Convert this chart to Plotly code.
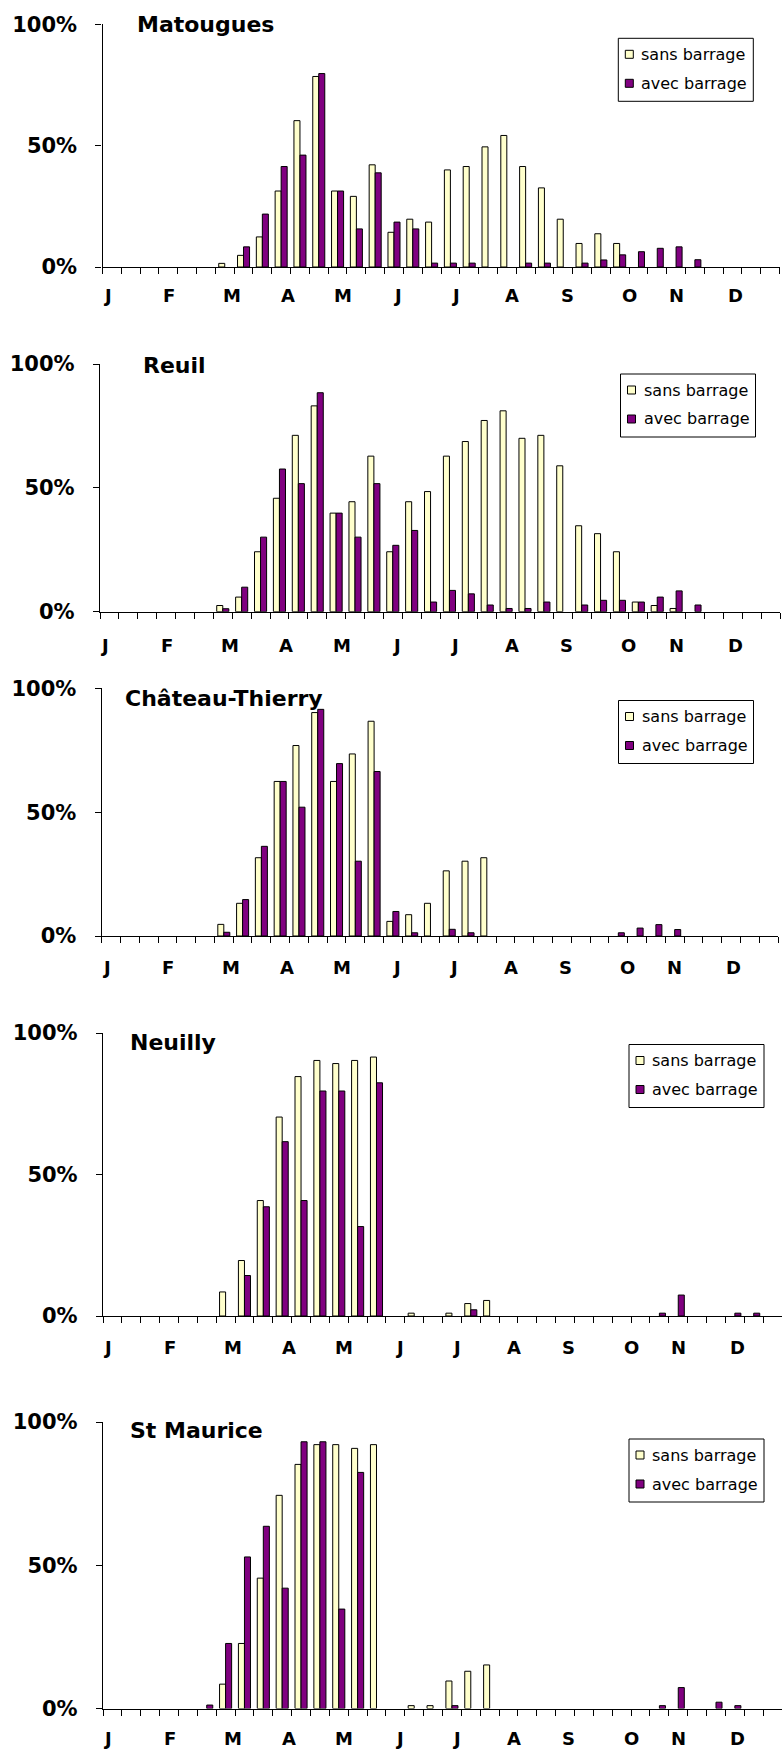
import plotly.graph_objects as go

# ---------------------------------------------------------------------------
# Data: share (%) of each 10-day period (3 per month, 36 per year)
# ---------------------------------------------------------------------------
STATIONS = ["Matougues", "Reuil", "Château-Thierry", "Neuilly", "St Maurice"]
SERIES_NAMES = ["sans barrage", "avec barrage"]
MONTH_LABELS = ["J", "F", "M", "A", "M", "J", "J", "A", "S", "O", "N", "D"]
Y_TICKS = [0, 50, 100]
Y_TICK_LABELS = ["0%", "50%", "100%"]
N_PERIODS = 36

#                  J            F            M               A               M               J               J               A               S               O             N             D
matougues_sans = [0, 0, 0,    0, 0, 0,    1.5, 4.8, 12.4, 31.3, 60.3, 78.5, 31.3, 29.1, 42.1, 14.3, 19.7, 18.5, 40.0, 41.4, 49.5, 54.2, 41.4, 32.6, 19.7, 9.7, 13.7, 9.7, 0, 0,    0, 0, 0,    0, 0, 0]
matougues_avec = [0, 0, 0,    0, 0, 0,    0, 8.3, 21.8,   41.4, 46.1, 79.7, 31.3, 15.7, 38.8, 18.5, 15.7, 1.6,  1.6, 1.6, 0,     0, 1.6, 1.6,    0, 1.6, 2.9,   5.0, 6.3, 7.7, 8.3, 3.0, 0, 0, 0, 0]

reuil_sans = [0, 0, 0,    0, 0, 0,    2.5, 5.9, 24.2, 45.8, 71.2, 83.1, 39.8, 44.4, 62.8, 24.2, 44.4, 48.5, 62.8, 68.7, 77.2, 81.1, 70.0, 71.2, 58.9, 34.7, 31.5, 24.2, 3.9, 2.5, 1.3, 0, 0,    0, 0, 0]
reuil_avec = [0, 0, 0,    0, 0, 0,    1.2, 9.9, 30.1, 57.6, 51.7, 88.4, 39.8, 30.1, 51.7, 26.8, 32.8, 3.9,  8.6, 7.2, 2.7,   1.3, 1.3, 3.9,    0, 2.7, 4.6,   4.6, 3.9, 5.9, 8.4, 2.7, 0,    0, 0, 0]

chateau_sans = [0, 0, 0,    0, 0, 0,    4.7, 13.2, 31.6, 62.4, 76.9, 90.2, 62.4, 73.5, 86.7, 5.9, 8.6, 13.2, 26.3, 30.2, 31.6, 0, 0, 0,    0, 0, 0,    0, 0, 0,    0, 0, 0,    0, 0, 0]
chateau_avec = [0, 0, 0,    0, 0, 0,    1.5, 14.7, 36.2, 62.4, 52.0, 91.5, 69.6, 30.2, 66.4, 9.9, 1.3, 0,    2.7, 1.3, 0,    0, 0, 0,    0, 0, 0,    1.3, 3.2, 4.6, 2.6, 0, 0,    0, 0, 0]

neuilly_sans = [0, 0, 0,    0, 0, 0,    8.5, 19.6, 40.8, 70.3, 84.6, 90.3, 89.2, 90.3, 91.5, 0, 1.0, 0,    1.0, 4.4, 5.5, 0, 0, 0,    0, 0, 0,    0, 0, 0,    0, 0, 0,    0, 0, 0]
neuilly_avec = [0, 0, 0,    0, 0, 0,    0, 14.3, 38.6,   61.6, 40.8, 79.5, 79.5, 31.6, 82.4, 0, 0, 0,      0, 2.2, 0,     0, 0, 0,    0, 0, 0,    0, 0, 1.0,  7.4, 0, 0,  1.0, 1.0, 0]

stmaurice_sans = [0, 0, 0,    0, 0, 0,    8.5, 22.7, 45.5, 74.4, 85.2, 92.1, 92.1, 90.8, 92.1, 0, 1.0, 1.0, 9.6, 13.0, 15.2, 0, 0, 0,    0, 0, 0,    0, 0, 0,    0, 0, 0,    0, 0, 0]
stmaurice_avec = [0, 0, 0,    0, 0, 1.2,  22.7, 52.9, 63.6, 42.0, 93.1, 93.1, 34.7, 82.4, 0, 0, 0, 0,       1.0, 0, 0,     0, 0, 0,    0, 0, 0,    0, 0, 1.0,  7.3, 0, 2.2,  1.0, 0, 0]

SANS = [matougues_sans, reuil_sans, chateau_sans, neuilly_sans, stmaurice_sans]
AVEC = [matougues_avec, reuil_avec, chateau_avec, neuilly_avec, stmaurice_avec]

# ---------------------------------------------------------------------------
# Layout (pixel geometry of a 782 x 1752 page)
# ---------------------------------------------------------------------------
W, H = 782, 1752
FONT = "DejaVu Sans"
COLOR_SANS = "#FFFFCC"
COLOR_AVEC = "#800080"

# plot area: x0, x1, y(100%), y(0%); title anchor; legend top-left; month label row
PANELS = [
    dict(x0=102.5, x1=779.5, top=24.3, bottom=267.0, title=(134.5, 25.0), legend=(618.3, 38.3), months_y=295.0),
    dict(x0=100.0, x1=780.0, top=364.0, bottom=611.7, title=(141.0, 365.0), legend=(620.5, 374.0), months_y=645.0),
    dict(x0=101.7, x1=778.0, top=688.3, bottom=936.0, title=(123.0, 698.0), legend=(618.5, 700.5), months_y=967.0),
    dict(x0=103.0, x1=782.0, top=1033.0, bottom=1316.0, title=(127.5, 1042.0), legend=(629.0, 1044.5), months_y=1347.0),
    dict(x0=103.0, x1=782.0, top=1422.0, bottom=1708.5, title=(127.5, 1430.0), legend=(629.0, 1439.0), months_y=1738.5),
]
# month label centres, in 10-day period units from the start of the year
MONTH_POS = [0.25, 3.55, 6.9, 9.85, 12.8, 15.7, 18.75, 21.8, 24.7, 28.0, 30.5, 33.65]
LEGEND_W, LEGEND_H = 135.0, 63.0


def fx(px):
    return px / W


def fy(py):
    return 1.0 - py / H


def nonzero(values):
    # empty periods get no bar at all
    return [v if v > 0 else None for v in values]


fig = go.Figure()
periods = [i + 0.5 for i in range(N_PERIODS)]
annotations = []
shapes = []
layout_axes = {}

for k, (name, geo) in enumerate(zip(STATIONS, PANELS), start=1):
    xa, ya = f"x{k}", f"y{k}"
    for series, values, color in ((SERIES_NAMES[0], SANS[k - 1], COLOR_SANS),
                                  (SERIES_NAMES[1], AVEC[k - 1], COLOR_AVEC)):
        fig.add_trace(go.Bar(
            x=periods, y=nonzero(values), name=series, xaxis=xa, yaxis=ya,
            marker=dict(color=color, line=dict(color="black", width=1)),
            showlegend=False, hoverinfo="x+y",
        ))

    suffix = "" if k == 1 else str(k)
    layout_axes[f"xaxis{suffix}"] = dict(
        domain=[fx(geo["x0"]), fx(geo["x1"])], range=[0, N_PERIODS], anchor=ya,
        tickmode="array", tickvals=list(range(N_PERIODS + 1)), ticks="outside",
        ticklen=6, tickwidth=1, tickcolor="black", showticklabels=False,
        showline=True, linecolor="black", linewidth=1.3, showgrid=False,
        zeroline=False, fixedrange=True, automargin=False,
    )
    layout_axes[f"yaxis{suffix}"] = dict(
        domain=[fy(geo["bottom"]), fy(geo["top"])], range=[0, 100], anchor=xa,
        tickmode="array", tickvals=Y_TICKS, ticktext=Y_TICK_LABELS,
        ticks="outside", ticklen=6, tickwidth=1, tickcolor="black",
        ticklabelstandoff=14,
        tickfont=dict(family=FONT, size=21, color="black", weight="bold"),
        showline=True, linecolor="black", linewidth=1.3, showgrid=False,
        zeroline=False, fixedrange=True, automargin=False,
    )

    # station title
    tx, ty = geo["title"]
    annotations.append(dict(
        text=name, xref="paper", yref="paper", x=fx(tx), y=fy(ty),
        xanchor="left", yanchor="middle", showarrow=False,
        font=dict(family=FONT, size=22, color="black", weight="bold"),
    ))

    # month labels under the axis
    for label, pos in zip(MONTH_LABELS, MONTH_POS):
        annotations.append(dict(
            text=label, xref=xa, yref="paper", x=pos, y=fy(geo["months_y"]),
            xanchor="center", yanchor="middle", showarrow=False, borderpad=0,
            font=dict(family=FONT, size=18, color="black", weight="bold"),
        ))

    # legend box
    lx, ly = geo["legend"]
    shapes.append(dict(
        type="rect", xref="paper", yref="paper",
        x0=fx(lx), x1=fx(lx + LEGEND_W), y0=fy(ly), y1=fy(ly + LEGEND_H),
        line=dict(color="black", width=1), fillcolor="white", layer="above",
    ))
    for row, (series, color) in enumerate(((SERIES_NAMES[0], COLOR_SANS),
                                           (SERIES_NAMES[1], COLOR_AVEC))):
        cy = ly + 16.0 + row * 29.0
        shapes.append(dict(
            type="rect", xref="paper", yref="paper",
            x0=fx(lx + 7), x1=fx(lx + 15), y0=fy(cy - 4), y1=fy(cy + 4),
            line=dict(color="black", width=1), fillcolor=color, layer="above",
        ))
        annotations.append(dict(
            text=series, xref="paper", yref="paper", x=fx(lx + 21), y=fy(cy),
            xanchor="left", yanchor="middle", showarrow=False,
            font=dict(family=FONT, size=16, color="black"),
        ))

fig.update_layout(
    width=W, height=H,
    margin=dict(l=0, r=0, t=0, b=0, pad=0, autoexpand=False),
    paper_bgcolor="white", plot_bgcolor="white",
    barmode="group", bargap=0.36, bargroupgap=0.0,
    showlegend=False, annotations=annotations, shapes=shapes,
    font=dict(family=FONT, color="black"),
    **layout_axes,
)

# the page body keeps no margin so the figure fills the window exactly
fig.write_html(
    "out.html",
    post_script="document.body.style.margin='0';document.body.style.overflow='hidden';",
)
